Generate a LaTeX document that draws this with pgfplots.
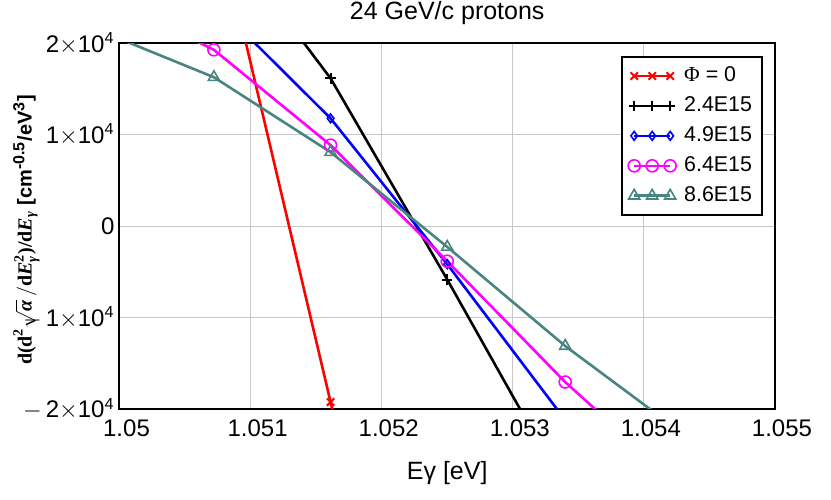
\documentclass[border=0pt]{standalone}
\usepackage{fontspec}
\setmainfont{Liberation Sans}
\newfontfamily\serifphi{Liberation Serif}
\usepackage{pgfplots}
\pgfplotsset{compat=1.18}
\definecolor{tealc}{RGB}{72,133,128}
\definecolor{magc}{RGB}{255,0,255}
\definecolor{gridc}{RGB}{200,200,200}
\newcommand\lsb[1]{\mbox{\serifphi\bfseries #1}}
\newcommand\lsbi[1]{\mbox{\serifphi\bfseries\itshape #1}}
\newcommand\tsup[1]{$^{\mbox{\fontsize{8}{9}\selectfont #1}}$}

\begin{document}
\begin{tikzpicture}
\path[use as bounding box] (-59.75pt,-45pt) rectangle (355.75pt,204.5pt);
\begin{axis}[
  scale only axis, width=327.75pt, height=182.8pt,
  at={(0pt,0pt)}, anchor=south west,
  xmin=1.05, xmax=1.055, ymin=-20000, ymax=20000,
  xtick={1.05,1.051,1.052,1.053,1.054,1.055},
  xticklabels={1.05,1.051,1.052,1.053,1.054,1.055},
  ytick={-20000,-10000,0,10000,20000},
  yticklabels={{$-$\,2$\times$10\tsup{4}},{$-$\,1$\times$10\tsup{4}},0,{1$\times$10\tsup{4}},{2$\times$10\tsup{4}}},
  scaled x ticks=false, scaled y ticks=false,
  grid=major, major grid style={gridc, line width=0.6pt},
  major tick length=0pt,
  axis line style={line width=1pt},
  tick label style={font=\fontsize{12}{14}\selectfont},
  xticklabel style={xshift=3.5pt, yshift=-2pt},
  yticklabel style={xshift=1pt},
  title={24 GeV/c protons},
  title style={font=\fontsize{12.5}{15}\selectfont, at={(axis description cs:0.5,1.05)}, anchor=center},
  xlabel={Eγ [eV]},
  xlabel style={font=\fontsize{12.5}{15}\selectfont, at={(axis description cs:0.5,-0.175)}, anchor=center},
  ylabel={$\lsb{d(d}^{\lsb{\scriptsize 2}}\sqrt{\lsbi{α}}\,/\lsb{d}\lsbi{E}^{\lsb{\scriptsize 2}}_{\lsbi{\scriptsize γ}}\lsb{)/d}\lsbi{E}_{\lsbi{\scriptsize γ}}$ \bfseries [cm\tsup{\bfseries -0.5}/eV\tsup{\bfseries 3}]},
  ylabel style={font=\fontsize{10}{12}\selectfont, at={(axis description cs:-0.142,0.49)}, anchor=center},
  legend style={at={(0.9817,0.9655)}, anchor=north east, font=\fontsize{10.7}{12.8}\selectfont,
    draw=black, line width=1pt, row sep=2pt, inner sep=3pt, column sep=2pt},
  legend cell align=left,
  legend image code/.code={\draw[#1] plot coordinates {(0pt,0pt) (9pt,0pt) (18pt,0pt)};},
  every axis plot/.append style={line width=1.3pt},
]
\addplot[red, mark=x, mark size=2.6pt, mark options={solid, line width=1pt}] coordinates {
  (1.05072,34900) (1.05161,-19240) (1.05250,-73300)
};
\addlegendentry{{\serifphi Φ} = 0}
\addplot[black, mark=+, mark size=2.6pt, mark options={solid, line width=1pt}] coordinates {
  (1.05072,33100) (1.05161,16180) (1.05250,-5840) (1.05340,-28800)
};
\addlegendentry{2.4E15}
\addplot[blue, mark=diamond, mark size=2.2pt, mark options={solid, line width=0.8pt}] coordinates {
  (1.05072,24500) (1.05161,11800) (1.05250,-4160) (1.05340,-21200)
};
\addlegendentry{4.9E15}
\addplot[magc, mark=o, mark size=3pt, mark options={solid, line width=0.8pt}] coordinates {
  (1.04983,25700) (1.05072,19300) (1.05161,8870) (1.05250,-3830) (1.05340,-17050) (1.05429,-28600)
};
\addlegendentry{6.4E15}
\addplot[tealc, mark=triangle, mark size=3.2pt, mark options={solid, line width=0.8pt}] coordinates {
  (1.04983,21500) (1.05072,16300) (1.05161,8100) (1.05250,-2270) (1.05340,-13110) (1.05429,-22600)
};
\addlegendentry{8.6E15}
\end{axis}
\end{tikzpicture}
\end{document}
